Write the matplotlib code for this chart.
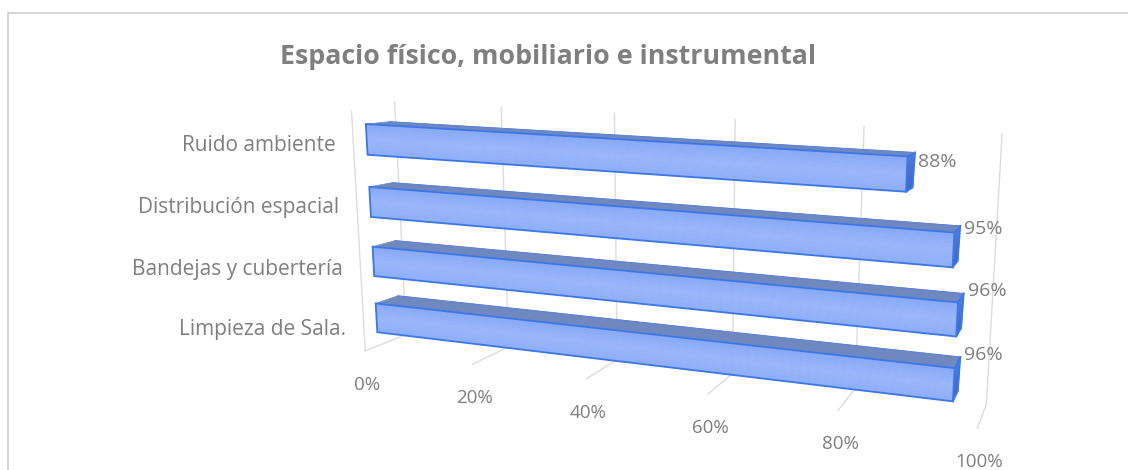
import numpy as np
import matplotlib
matplotlib.use('Agg')
import matplotlib.pyplot as plt
from matplotlib.colors import LinearSegmentedColormap

# Chart data, first category is the lowest bar
categories = ['Limpieza de Sala.', 'Bandejas y cubertería', 'Distribución espacial', 'Ruido ambiente']
values = [96, 96, 95, 88]
value_labels = ['96%', '96%', '95%', '88%']
ticks = [0, 20, 40, 60, 80, 100]
tick_labels = ['0%', '20%', '40%', '60%', '80%', '100%']
title = 'Espacio físico, mobiliario e instrumental'

# 3D box layout: value 0-100, depth 0-1 (front to back), height 0-1
BAR_LOW = [0.057, 0.29, 0.53, 0.777]
BAR_H = 0.12
FRONT = 0.3
BACK = 0.75
TOP_BACK = 0.84
WALL_TOP = 0.975
SIDE_TOP = 0.95

TEXT = '#7f7f7f'
GRID = '#dcdcdc'
EDGE = '#3b78e7'
TOP_FACE = '#7088c0'

# Camera calibration: box point -> pixel in the reference
b = BAR_LOW
t = [x + BAR_H for x in BAR_LOW]
CALIB = [
    (0, 1, 1, 395, 100), (20, 1, 1, 501, 105), (40, 1, 1, 615, 112),
    (60, 1, 1, 736, 116), (80, 1, 1, 865, 121), (100, 1, 1, 1004, 133),
    (0, 0, 0, 367, 353), (20, 0, 0, 473, 367), (40, 0, 0, 588, 380),
    (80, 0, 0, 837, 413), (100, 0, 0, 975, 433),
    (100, 1, 0, 987, 403), (80, 1, 0, 853, 388), (0, 1, 0, 406, 335), (0, 0, 1, 351, 98),
    (0, FRONT, b[0], 379, 333), (0, FRONT, t[0], 377, 304), (0, BACK, t[0], 394, 296),
    (96, FRONT, b[0], 952, 403), (96, FRONT, t[0], 953, 369), (96, BACK, t[0], 959, 358), (96, BACK, b[0], 959, 393),
    (0, FRONT, b[1], 375, 275), (0, FRONT, t[1], 373, 246), (0, BACK, t[1], 389, 238),
    (96, FRONT, b[1], 956, 336), (96, FRONT, t[1], 957, 302), (96, BACK, t[1], 963, 292), (96, BACK, b[1], 962, 325),
    (0, FRONT, b[2], 371, 216), (0, FRONT, t[2], 369, 186), (0, BACK, t[2], 387, 179),
    (95, FRONT, b[2], 953, 266), (95, FRONT, t[2], 953, 230), (95, BACK, t[2], 960, 223), (95, BACK, b[2], 960, 257),
    (0, FRONT, b[3], 367, 155), (0, FRONT, t[3], 366, 123), (0, BACK, t[3], 382, 118),
    (88, FRONT, b[3], 906, 192), (88, FRONT, t[3], 907, 154), (88, BACK, t[3], 914, 150), (88, BACK, b[3], 913, 187),
]


def fit_camera(points):
    'Least squares fit of the 3x4 projection matrix'
    rows = []
    rhs = []
    for v, d, z, px, py in points:
        rows.append([v, d, z, 1, 0, 0, 0, 0, -v * px, -d * px, -z * px])
        rhs.append(px)
        rows.append([0, 0, 0, 0, v, d, z, 1, -v * py, -d * py, -z * py])
        rhs.append(py)
    sol = np.linalg.lstsq(np.array(rows, float), np.array(rhs, float), rcond=None)[0]
    return np.append(sol, 1.0).reshape(3, 4)


P = fit_camera(CALIB)


def project(v, d, z):
    'Box coordinates to figure pixels'
    x, y, w = P @ np.array([v, d, z, 1.0])
    return x / w, y / w


def face(ax, corners, **kw):
    pts = [project(*c) for c in corners]
    ax.fill([p[0] for p in pts], [p[1] for p in pts], **kw)


def line(ax, a, c, **kw):
    pa, pc = project(*a), project(*c)
    ax.plot([pa[0], pc[0]], [pa[1], pc[1]], **kw)


def draw_bar(ax, value, low):
    high = low + BAR_H
    front_cmap = LinearSegmentedColormap.from_list('front', ['#87a8f6', '#9ab6fa', '#8cadf8'])
    side_cmap = LinearSegmentedColormap.from_list('side', ['#3e63c4', '#4a78dc'])

    # top and right faces
    face(ax, [(0, FRONT, high), (value, FRONT, high), (value, TOP_BACK, high), (0, TOP_BACK, high)],
         facecolor=TOP_FACE, edgecolor=TOP_FACE, lw=0.5, zorder=3)
    n = 16
    for i in range(n):
        z0 = low + BAR_H * i / n
        z1 = low + BAR_H * (i + 1) / n
        col = side_cmap(i / (n - 1))
        face(ax, [(value, FRONT, z0), (value, BACK, z0), (value, TOP_BACK, z1), (value, FRONT, z1)],
             facecolor=col, edgecolor=col, lw=0.4, zorder=3)
        col = front_cmap(1 - i / (n - 1))
        face(ax, [(0, FRONT, z0), (value, FRONT, z0), (value, FRONT, z1), (0, FRONT, z1)],
             facecolor=col, edgecolor=col, lw=0.4, zorder=4)

    # blue outline of the box
    outline = [(0, FRONT, low), (value, FRONT, low), (value, FRONT, high), (0, FRONT, high)]
    face(ax, outline, facecolor='none', edgecolor=EDGE, lw=1.3, zorder=5)
    line(ax, (value, FRONT, high), (value, TOP_BACK, high), color=EDGE, lw=1.3, zorder=5)
    line(ax, (value, TOP_BACK, high), (value, BACK, low), color=EDGE, lw=1.3, zorder=5)
    line(ax, (value, BACK, low), (value, FRONT, low), color=EDGE, lw=1.3, zorder=5)
    line(ax, (0, TOP_BACK, high), (value, TOP_BACK, high), color='#5f82d8', lw=0.8, zorder=5)


fig = plt.figure(figsize=(11.28, 4.70), dpi=100)
plt.rcParams['font.family'] = ['Open Sans', 'DejaVu Sans']
ax = fig.add_axes([0, 0, 1, 1])
ax.set_xlim(0, 1128)
ax.set_ylim(470, 0)
ax.axis('off')

# Chart frame, runs off the right and bottom of the picture
ax.plot([8, 8, 1128], [470, 13, 13], color='#d4d4d4', lw=1.4, zorder=1)

ax.text(548, 57, title, color=TEXT, fontsize=19.3, fontweight='bold', ha='center', va='center')

# Back wall and floor lines
for tick in ticks:
    line(ax, (tick, 1, WALL_TOP), (tick, 1, 0), color=GRID, lw=1.0, zorder=1)
    line(ax, (tick, 1, 0), (tick, 0, 0), color=GRID, lw=1.0, zorder=1)
line(ax, (0, 0, SIDE_TOP), (0, 0, 0), color=GRID, lw=1.0, zorder=1)

# Tick labels below the front of the floor
for tick, lab in zip(ticks, tick_labels):
    x, y = project(tick, 0, 0)
    ax.text(x + 2, y + 34, lab, color=TEXT, fontsize=13.5, ha='center', va='center')

# Bars, farthest first
label_offset = [(0, 12), (0, 8), (0, 6), (0, 6)]
value_offset = [(5, -4), (5, -4), (5, 2), (4, 9)]
for i in reversed(range(len(categories))):
    draw_bar(ax, values[i], BAR_LOW[i])
    x, y = project(0, FRONT, BAR_LOW[i] + BAR_H / 2)
    ax.text(x - 31 + label_offset[i][0], y + label_offset[i][1], categories[i], color=TEXT,
            fontsize=15, ha='right', va='center')
    x, y = project(values[i], BACK, BAR_LOW[i] + BAR_H)
    ax.text(x + value_offset[i][0], y + value_offset[i][1], value_labels[i], color=TEXT,
            fontsize=14, ha='left', va='center')

fig.savefig('out.png', dpi=100)
